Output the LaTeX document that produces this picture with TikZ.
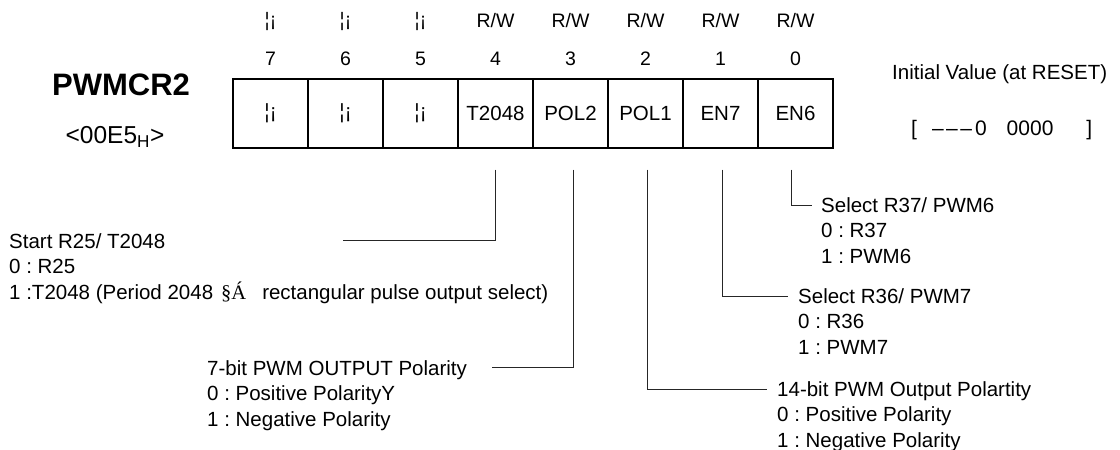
\documentclass[tikz,border=0pt]{standalone}
\usepackage{fontspec}
\setmainfont{Liberation Sans}
\newfontfamily\oddglyphs{Liberation Serif}
\newcommand{\accrw}{R/W}
\frenchspacing

\tikzset{
  bitcell/.style={draw, line width=1.4pt, minimum width=75pt, minimum height=69pt,
    inner sep=0pt, font=\fontsize{20.5}{25.5}\selectfont},
  bithead/.style={inner sep=0pt, font=\fontsize{19.5}{23}\selectfont},
  desc/.style={anchor=north west, align=left, inner sep=0pt,
    font=\fontsize{20.5}{25.5}\selectfont},
  leader/.style={line width=0.9pt, black!85},
}

\begin{document}
\begin{tikzpicture}[x=1pt, y=-1pt]
  \useasboundingbox (0,0) rectangle (1120,450);

  % Register name and address.
  \node[inner sep=0pt, font=\bfseries\fontsize{31}{36}\selectfont] (reg) at (121,85) {PWMCR2};
  \node[inner sep=0pt, font=\fontsize{24.5}{28}\selectfont] (addr) at (115,137) {<00E5\textsubscript{H}>};

  % The eight bit cells, with bit number and access above each.
  \foreach \nm/\acc [count=\i from 0] in {¦¡/¦¡, ¦¡/¦¡, ¦¡/¦¡, T2048/\accrw,
      POL2/\accrw, POL1/\accrw, EN7/\accrw, EN6/\accrw} {
    \pgfmathtruncatemacro{\bit}{7-\i}
    \node[bitcell] (b\bit) at (270.5+75*\i,113.5) {\nm};
    \node[bithead] (n\bit) at (270.5+75*\i,59) {\bit};
    \node[bithead] (a\bit) at (270.5+75*\i,21) {\acc};
  }

  % Initial value.
  \node[anchor=west, inner sep=0pt, font=\fontsize{20.5}{25}\selectfont] (init) at (892,74)
    {Initial Value (at RESET)};
  \node[anchor=west, inner sep=0pt, font=\fontsize{21}{25}\selectfont] (rst) at (911,130)
    {[\hspace{15pt}\textendash\hspace{2.5pt}\textendash\hspace{2.5pt}\textendash\hspace{3pt}0\hspace{20pt}0000\hspace{33pt}]};

  % Bit descriptions.
  \node[desc] (d4) at (9,233.3) {Start R25/ T2048\\0 : R25\\
    1 :T2048 (Period 2048\hspace{8pt}{\oddglyphs §Á}\hspace{16pt}rectangular pulse output select)};
  \node[desc] (d3) at (207,360.3) {7-bit PWM OUTPUT Polarity\\0 : Positive PolarityY\\1 : Negative Polarity};
  \node[desc] (d2) at (777,381.3) {14-bit PWM Output Polartity\\0 : Positive Polarity\\1 : Negative Polarity};
  \node[desc] (d1) at (798,288.3) {Select R36/ PWM7\\0 : R36\\1 : PWM7};
  \node[desc] (d0) at (821,197.3) {Select R37/ PWM6\\0 : R37\\1 : PWM6};

  % Leader lines from the cells to their descriptions.
  \coordinate (s4) at ([shift={(-0.5,21)}]b4.south);
  \coordinate (s3) at ([shift={(2.5,21)}]b3.south);
  \coordinate (s2) at ([shift={(1.5,21)}]b2.south);
  \coordinate (s1) at ([shift={(1.5,21)}]b1.south);
  \coordinate (s0) at ([shift={(-4.5,21)}]b0.south);
  \coordinate (e4) at (343,240);
  \coordinate (e3) at (492,367);
  \draw[leader] (s4) |- (e4);
  \draw[leader] (s3) |- (e3);
  \draw[leader] (s2) |- ([shift={(-10,7.7)}]d2.north west);
  \draw[leader] (s1) |- ([shift={(-10,7.7)}]d1.north west);
  \draw[leader] (s0) |- ([shift={(-9,7.7)}]d0.north west);
\end{tikzpicture}
\end{document}
